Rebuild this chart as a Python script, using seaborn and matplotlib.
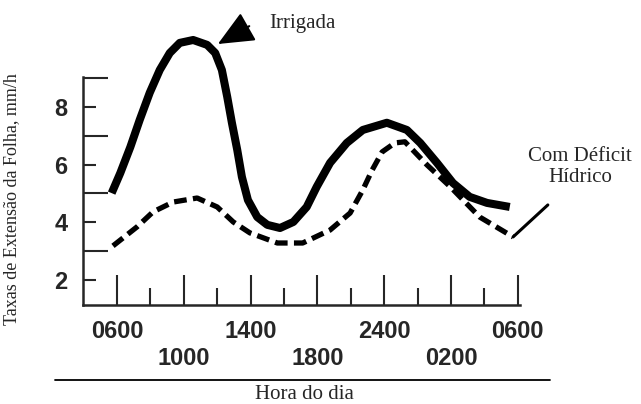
# Taxa de extensao da folha ao longo do dia: planta irrigada x com deficit hidrico
import numpy as np
import matplotlib
matplotlib.use("Agg")
import matplotlib.pyplot as plt
import seaborn as sns

# eixo x: rotulos igualmente espacados (posicao 0..6)
horas = ["0600", "1000", "1400", "1800", "2400", "0200", "0600"]

# curva cheia - Irrigada (posicao no eixo, taxa mm/h)
irrig_pos = [-0.08, 0.05, 0.20, 0.34, 0.49, 0.64, 0.79, 0.94, 1.14, 1.35, 1.47,
             1.57, 1.65, 1.72, 1.80, 1.87, 1.96, 2.10, 2.25, 2.44, 2.64, 2.84,
             2.99, 3.19, 3.44, 3.68, 4.04, 4.34, 4.54, 4.79, 5.03, 5.28, 5.54, 5.88]
irrig_taxa = [5.01, 5.71, 6.61, 7.55, 8.49, 9.28, 9.87, 10.22, 10.32, 10.15, 9.87,
              9.28, 8.35, 7.45, 6.51, 5.57, 4.77, 4.18, 3.91, 3.80, 4.01, 4.53,
              5.23, 6.06, 6.75, 7.20, 7.45, 7.20, 6.75, 6.06, 5.36, 4.88, 4.67, 4.53]

# curva tracejada - Com Deficit Hidrico
deficit_pos = [-0.06, 0.30, 0.54, 0.84, 1.20, 1.50, 1.74, 1.99, 2.40, 2.78, 3.19,
               3.49, 3.68, 3.82, 3.97, 4.16, 4.31, 4.64, 4.99, 5.43, 5.93]
deficit_taxa = [3.18, 3.84, 4.36, 4.70, 4.84, 4.53, 4.01, 3.63, 3.28, 3.28, 3.73,
                4.32, 5.12, 5.81, 6.44, 6.75, 6.79, 5.99, 5.23, 4.18, 3.49]

y_ticks = [2, 4, 6, 8]
y_minor = [3, 5, 7, 9]

sns.set_style("ticks")
plt.rcParams["font.family"] = ["Liberation Sans", "DejaVu Sans"]

fig = plt.figure(figsize=(6.41, 4.04), dpi=100)
ax = fig.add_axes([83 / 641, 1 - 305 / 404, 547 / 641, 295 / 404])

sns.lineplot(x=irrig_pos, y=irrig_taxa, sort=False, estimator=None, color="black",
             linewidth=5.8, solid_capstyle="butt", solid_joinstyle="round", ax=ax)
sns.lineplot(x=deficit_pos, y=deficit_taxa, sort=False, estimator=None, color="black",
             linewidth=3.8, linestyle=(0, (2.4, 1.2)), dash_capstyle="butt",
             dash_joinstyle="round", ax=ax)

ax.set_xlim(-0.509, 7.68)
ax.set_ylim(1.13, 11.36)

# ticks
ax.set_xticks(range(len(horas)))
ax.set_xticklabels([h if i % 2 == 0 else "\n" + h for i, h in enumerate(horas)],
                   fontweight="bold")
ax.set_xticks(np.arange(0.5, 6, 1), minor=True)
ax.set_yticks(y_ticks)
ax.set_yticklabels([str(v) for v in y_ticks], fontweight="bold")
ax.set_yticks(y_minor, minor=True)

ax.tick_params(axis="x", which="major", direction="in", length=21.6, width=1.5,
               pad=11, labelsize=17)
ax.tick_params(axis="x", which="minor", direction="in", length=12, width=1.5)
ax.tick_params(axis="y", which="major", direction="in", length=9.5, width=1.5,
               pad=11, labelsize=17)
ax.tick_params(axis="y", which="minor", direction="in", length=18, width=1.5)

for s in ["top", "right"]:
    ax.spines[s].set_visible(False)
ax.spines["left"].set_linewidth(1.8)
ax.spines["bottom"].set_linewidth(1.8)
ax.spines["left"].set_bounds(1.13, 9.05)
ax.spines["bottom"].set_bounds(-0.509, 6.03)

serif = ["Liberation Serif", "DejaVu Serif"]

ax.set_ylabel("Taxas de Extensão da Folha, mm/h", family=serif, fontsize=13)
ax.yaxis.set_label_coords(-0.115, 0.36)
ax.set_xlabel("")

# linha sob os rotulos e titulo do eixo x
ax.plot([-0.93, 6.48], [-1.47, -1.47], color="black", lw=1.3, clip_on=False)
ax.text(2.81, -1.99, "Hora do dia", family=serif, fontsize=15, ha="center", va="center")

# anotacoes
ax.text(2.78, 10.88, "Irrigada", family=serif, fontsize=15, ha="center", va="center")
ax.annotate("", xy=(1.51, 10.18), xytext=(1.98, 10.80),
            arrowprops=dict(arrowstyle="-|>,head_length=0.9,head_width=0.4",
                            mutation_scale=25, color="black", lw=1.5,
                            shrinkA=0, shrinkB=0))
ax.text(6.93, 5.92, "Com Déficit\nHídrico", family=serif, fontsize=15,
        ha="center", va="center", linespacing=1.1)
ax.annotate("", xy=(5.93, 3.49), xytext=(6.45, 4.60),
            arrowprops=dict(arrowstyle="-", color="black", lw=2.2,
                            shrinkA=0, shrinkB=0))

fig.savefig("out.png", dpi=100, facecolor="white")
